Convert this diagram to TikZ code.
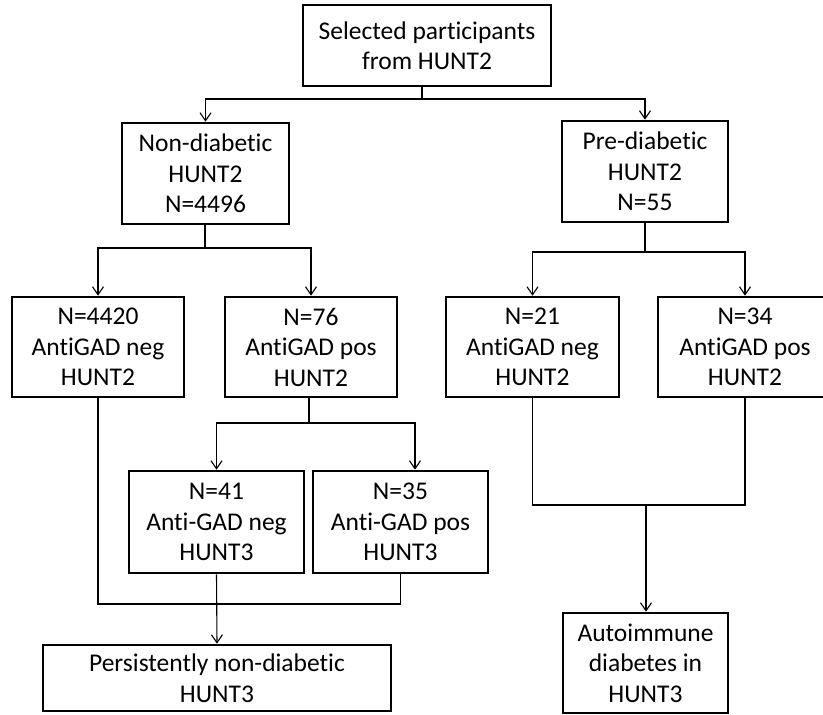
\documentclass[tikz,border=0pt]{standalone}
\usepackage{fontspec}
\setmainfont[Ligatures={NoCommon}]{Carlito}
\usetikzlibrary{arrows.meta}
\begin{document}
\begin{tikzpicture}[x=1pt,y=-1pt,
  box/.style={draw,line width=2.6pt,rectangle,inner sep=0pt,align=center,font=\fontsize{25.5}{30.5}\selectfont},
  conn/.style={line width=1.1pt},
  arr/.style={conn,-{Straight Barb[length=8pt,width=11pt,line width=1.1pt]}}]
\useasboundingbox (0,0) rectangle (823,715);
\node[box,minimum width=248pt,minimum height=81pt] (top) at (427,45.5) {Selected participants\\from HUNT2};
\node[box,minimum width=167pt,minimum height=101pt] (nd) at (205.5,173.5) {Non-diabetic\\HUNT2\\N=4496};
\node[box,minimum width=166pt,minimum height=101pt] (pd) at (645,171.5) {Pre-diabetic\\HUNT2\\N=55};
\node[box,minimum width=172pt,minimum height=100pt] (a) at (98,347) {N=4420\\AntiGAD neg\\HUNT2};
\node[box,minimum width=172pt,minimum height=100pt] (b) at (311,347) {N=76\\AntiGAD pos\\HUNT2};
\node[box,minimum width=173pt,minimum height=100pt] (c) at (532.5,347) {N=21\\AntiGAD neg\\HUNT2};
\node[box,minimum width=174pt,minimum height=100pt] (d) at (745,347) {N=34\\AntiGAD pos\\HUNT2};
\node[box,minimum width=175pt,minimum height=102pt] (e) at (216.5,522) {N=41\\Anti-GAD neg\\HUNT3};
\node[box,minimum width=175pt,minimum height=102pt] (f) at (400.5,522) {N=35\\Anti-GAD pos\\HUNT3};
\node[box,minimum width=348pt,minimum height=66pt] (g) at (217,678) {Persistently non-diabetic\\HUNT3};
\node[box,minimum width=165pt,minimum height=100pt] (h) at (645.5,663) {Autoimmune\\diabetes in\\HUNT3};
% junction coordinates
\coordinate (t1) at (422,99);
\coordinate (t2) at (205,248);
\coordinate (t3) at (645,252);
\coordinate (t4) at (309,423);
\coordinate (t4r) at (415,423);
\coordinate (t5) at (98,604);
\coordinate (t6) at (646,505);
% connectors
\draw[conn] (top.south -| t1) -- (t1);
\draw[arr] (t1) -| (nd.north);
\draw[arr] (t1) -| (pd.north);
\draw[conn] (nd.south -| t2) -- (t2);
\draw[arr] (t2) -| (a.north);
\draw[arr] (t2) -| (b.north);
\draw[conn] (pd.south -| t3) -- (t3);
\draw[arr] (t3) -| (c.north);
\draw[arr] (t3) -| (d.north);
\draw[conn] (b.south -| t4) -- (t4);
\draw[arr] (t4) -| (e.north);
\draw[arr] (t4) -- (t4r) -- (f.north -| t4r);
\draw[conn] (a.south) -- (a.south |- t5) -| (f.south);
\draw[arr] (e.south) -- (g.north);
\draw[conn] (c.south) -- (c.south |- t6) -- (d.south |- t6) -- (d.south);
\draw[arr] (t6) -- (h.north -| t6);
\end{tikzpicture}
\end{document}
